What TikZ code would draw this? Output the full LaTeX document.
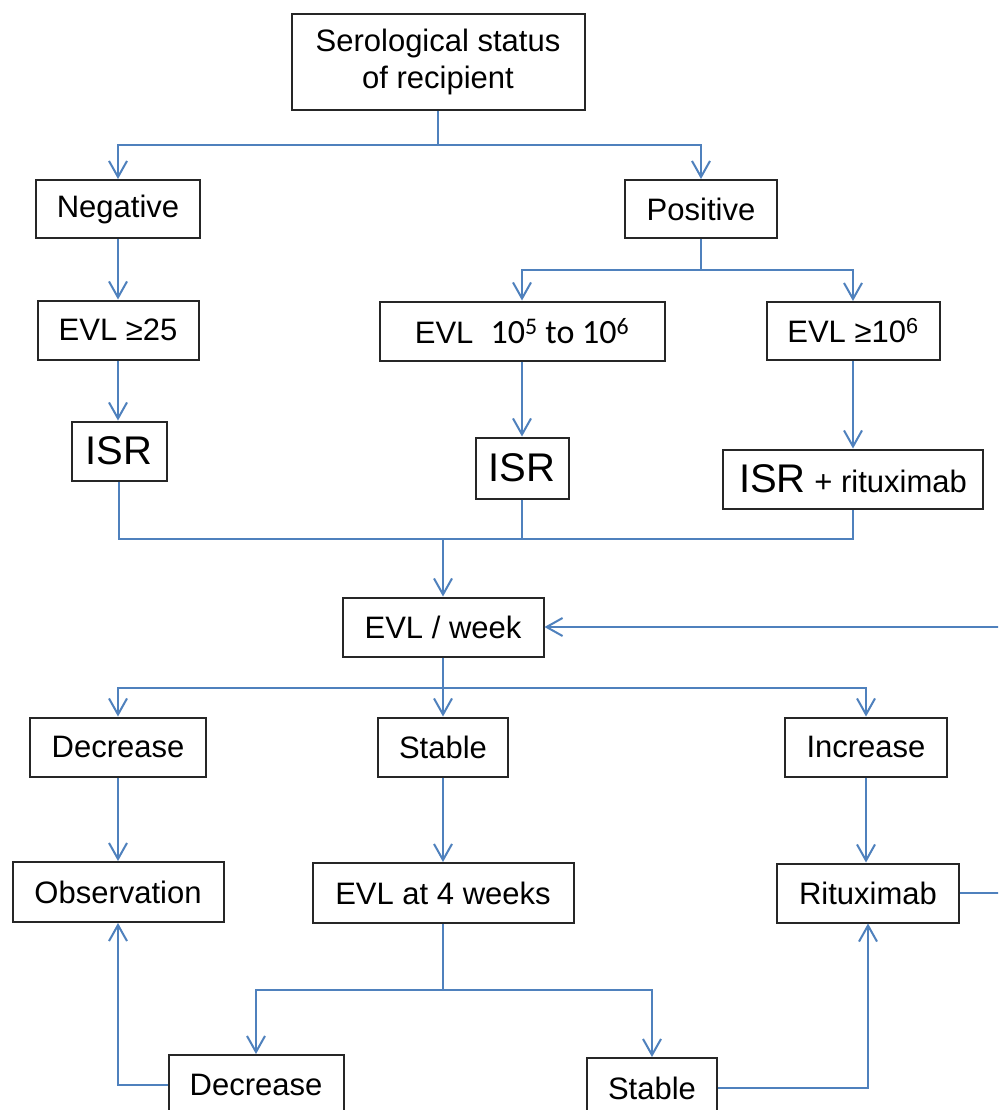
\documentclass[tikz,border=0pt]{standalone}
\usepackage{fontspec}
\setmainfont{Liberation Sans}
\newfontfamily\calibri{Carlito}
\usepackage{tikz}
\usetikzlibrary{arrows.meta,positioning}

\definecolor{linkblue}{RGB}{79,129,189}
\newcommand{\isrfont}{\fontsize{40}{44}\selectfont}

\begin{document}
\begin{tikzpicture}[
    x=1pt, y=-1pt,
    box/.style={rectangle, draw=black!85, line width=2pt, fill=white, inner sep=0pt,
        align=center, font=\fontsize{31}{37}\selectfont},
    link/.style={draw=linkblue, line width=2pt},
    arrow/.style={link, -{Straight Barb[length=16pt, width=18pt]}}
]
\fill[white] (0,0) rectangle (998,1110);
\useasboundingbox (0,0) rectangle (998,1110);
\clip (0,0) rectangle (998,1110);

% serology
\node[box, minimum width=293pt, minimum height=96pt] (status) at (438,62) {Serological status\\of recipient};
\node[box, minimum width=164pt, minimum height=58pt] (neg) at (118,209) {Negative};
\node[box, minimum width=152pt, minimum height=58pt] (pos) at (701,209) {Positive};

% viral load at entry
\node[box, minimum width=161pt, minimum height=59pt] (evlneg) at (118,330) {EVL ≥25};
\node[box, minimum width=285pt, minimum height=59pt] (evlmid) at (522,331) {EVL\ \ {\calibri\fontsize{34}{37}\selectfont 10\textsuperscript{5} to 10\textsuperscript{6}}};
\node[box, minimum width=173pt, minimum height=58pt] (evlhigh) at (853,331) {EVL ≥10\textsuperscript{6}};

% treatment
\node[box, minimum width=95pt, minimum height=59pt, font=\isrfont] (isra) at (119,451) {ISR};
\node[box, minimum width=93pt, minimum height=61pt, font=\isrfont] (isrb) at (522,468) {ISR};
\node[box, minimum width=260pt, minimum height=59pt] (isrrit) at (853,479) {{\isrfont ISR} + rituximab};

% weekly follow-up
\node[box, minimum width=201pt, minimum height=59pt] (week) at (443,627) {EVL / week};
\node[box, minimum width=176pt, minimum height=59pt] (dec) at (118,747) {Decrease};
\node[box, minimum width=130pt, minimum height=59pt] (stab) at (443,747) {Stable};
\node[box, minimum width=162pt, minimum height=59pt] (inc) at (866,747) {Increase};

\node[box, minimum width=211pt, minimum height=60pt] (obs) at (118,892) {Observation};
\node[box, minimum width=261pt, minimum height=60pt] (four) at (443,893) {EVL at 4 weeks};
\node[box, minimum width=182pt, minimum height=59pt] (rit) at (868,893) {Rituximab};

\node[box, minimum width=175pt, minimum height=60pt] (dec2) at (256,1085) {Decrease};
\node[box, minimum width=130pt, minimum height=60pt] (stab2) at (652,1088) {Stable};

% branch points
\coordinate (split1) at (438,145);
\coordinate (split2) at (701,270);
\coordinate (merge) at (443,539);
\coordinate (split3) at (443,688);
\coordinate (split4) at (443,990);
\coordinate (loopin) at (999,627);
\coordinate (loopout) at (999,893);

\draw[link] (status.south) -- (split1);
\draw[arrow] (split1) -| (neg.north);
\draw[arrow] (split1) -| (pos.north);
\draw[arrow] (neg) -- (evlneg);
\draw[link] (pos.south) -- (split2);
\draw[arrow] (split2) -| (evlmid.north);
\draw[arrow] (split2) -| (evlhigh.north);
\draw[arrow] (evlneg.south) -- (evlneg.south |- isra.north);
\draw[arrow] (evlmid) -- (isrb);
\draw[arrow] (evlhigh) -- (isrrit);

\draw[link] (isra.south) |- (isrrit.south |- merge) -- (isrrit.south);
\draw[link] (isrb.south) -- (isrb.south |- merge);
\draw[arrow] (merge) -- (week.north);
\draw[arrow] (loopin) -- (week.east);

\draw[link] (week.south) -- (split3);
\draw[arrow] (split3) -| (dec.north);
\draw[arrow] (split3) -- (stab.north);
\draw[arrow] (split3) -| (inc.north);
\draw[arrow] (dec) -- (obs);
\draw[arrow] (stab) -- (four);
\draw[arrow] (inc.south) -- (inc.south |- rit.north);
\draw[link] (rit.east) -- (loopout);

\draw[link] (four.south) -- (split4);
\draw[arrow] (split4) -| (dec2.north);
\draw[arrow] (split4) -| (stab2.north);
\draw[arrow] (dec2.west) -| (obs.south);
\draw[arrow] (stab2.east) -| (rit.south);
\end{tikzpicture}
\end{document}
